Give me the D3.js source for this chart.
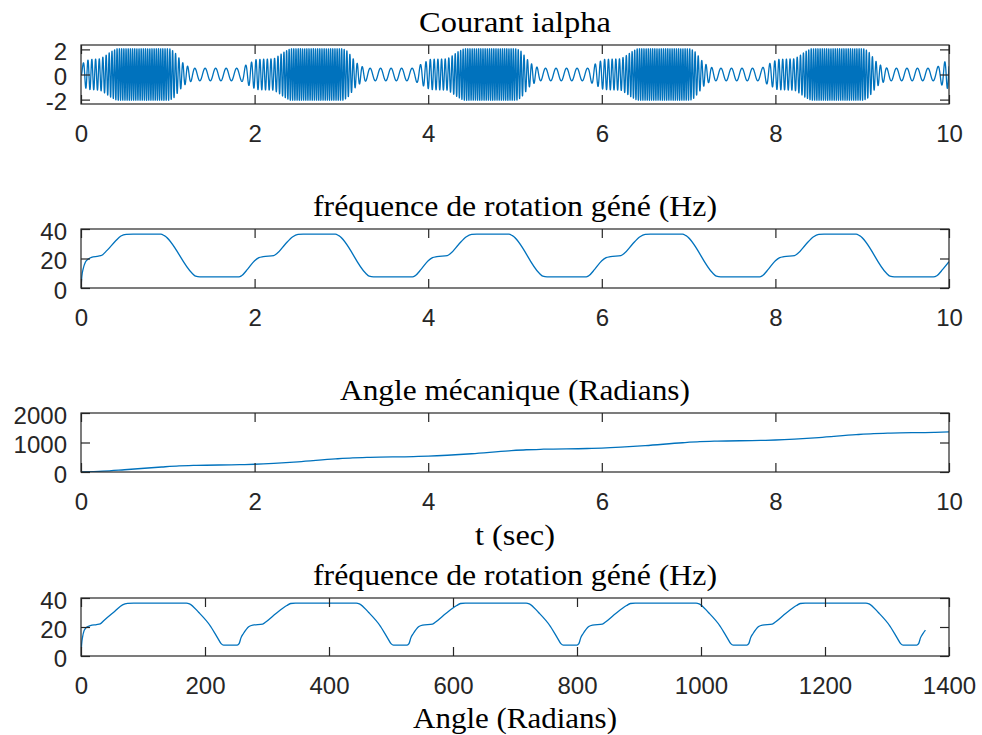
<!DOCTYPE html>
<html>
<head>
<meta charset="utf-8">
<script src="https://cdn.jsdelivr.net/npm/d3@7"></script>
<style>
  body { margin: 0; background: #ffffff; }
  svg { display: block; }
</style>
</head>
<body>
<svg id="chart" width="982" height="735"></svg>
<script>
// ---------------- DATA ----------------
const panelTitles = [
  "Courant ialpha",
  "fréquence de rotation géné (Hz)",
  "Angle mécanique (Radians)",
  "fréquence de rotation géné (Hz)"
];
const xLabelPanel3 = "t (sec)";
const xLabelPanel4 = "Angle (Radians)";

const timeTicks = [0, 2, 4, 6, 8, 10];
const angleTicks = [0, 200, 400, 600, 800, 1000, 1200, 1400];
const ialphaTicks = [-2, 0, 2];
const freqTicks = [0, 20, 40];
const angleYTicks = [0, 1000, 2000];

// Panel 2: rotation frequency (Hz) vs time (s)
const tFreq = [
  0, 0.01, 0.025, 0.05, 0.08, 0.12, 0.2, 0.24, 0.3, 0.4, 0.46, 0.52, 0.6, 0.92, 0.96, 1.28, 1.32, 1.37, 1.82,
  1.85, 1.92, 2.0, 2.05, 2.1, 2.22, 2.26, 2.35, 2.44, 2.5, 2.56, 2.93, 2.97, 3.28, 3.32, 3.37, 3.82,
  3.85, 3.92, 4.0, 4.05, 4.1, 4.22, 4.26, 4.35, 4.44, 4.5, 4.56, 4.93, 4.97, 5.28, 5.32, 5.37, 5.82,
  5.85, 5.92, 6.0, 6.05, 6.1, 6.22, 6.26, 6.35, 6.44, 6.5, 6.56, 6.93, 6.97, 7.28, 7.32, 7.37, 7.82,
  7.85, 7.92, 8.0, 8.05, 8.1, 8.22, 8.26, 8.35, 8.44, 8.5, 8.56, 8.93, 8.97, 9.28, 9.32, 9.37, 9.82,
  9.86, 9.93, 10.0
];
const freqHz = [
  0, 8, 13, 17.5, 19.5, 20.8, 21.6, 22.2, 25.5, 32, 35.3, 36.4, 36.5, 36.5, 35.5, 10, 8, 7.5, 7.5,
  8.3, 12.8, 18.5, 20.6, 21.3, 22, 23.5, 29.5, 34.8, 36.3, 36.5, 36.5, 35.5, 10, 8, 7.5, 7.5,
  8.3, 12.8, 18.5, 20.6, 21.3, 22, 23.5, 29.5, 34.8, 36.3, 36.5, 36.5, 35.5, 10, 8, 7.5, 7.5,
  8.3, 12.8, 18.5, 20.6, 21.3, 22, 23.5, 29.5, 34.8, 36.3, 36.5, 36.5, 35.5, 10, 8, 7.5, 7.5,
  8.3, 12.8, 18.5, 20.6, 21.3, 22, 23.5, 29.5, 34.8, 36.3, 36.5, 36.5, 35.5, 10, 8, 7.5, 7.5,
  8.3, 12.8, 17.8
];

// Panel 3: mechanical angle (rad) vs time (s)
const tAngle = [
  0, 0.25, 0.5, 0.93, 1.13, 1.33, 1.83, 2.0, 2.22, 2.5, 2.93, 3.13, 3.33, 3.83, 4.0, 4.22, 4.5,
  4.93, 5.13, 5.33, 5.83, 6.0, 6.22, 6.5, 6.93, 7.13, 7.33, 7.83, 8.0, 8.22, 8.5, 8.93, 9.13,
  9.33, 9.83, 10
];
const angleRad = [
  0, 28, 77, 170, 206, 225, 249, 263, 293, 345, 444, 480, 499, 523, 537, 567, 619,
  718, 754, 773, 797, 811, 841, 893, 992, 1028, 1047, 1071, 1085, 1115, 1167, 1266, 1302,
  1321, 1345, 1362
];

// Panel 4: rotation frequency (Hz) vs mechanical angle (rad)
const angleX4 = [
  0, 1, 2.5, 5, 9, 15, 25, 31, 37, 55, 67, 75, 85, 170,
  175, 190, 209, 221, 226, 230, 252, 255, 258, 262, 271, 277, 293, 298, 315, 332, 338, 346, 444,
  449, 464, 483, 495, 500, 504, 526, 529, 532, 536, 545, 551, 567, 572, 589, 606, 612, 620, 718,
  723, 738, 757, 769, 774, 778, 800, 803, 806, 810, 819, 825, 841, 846, 863, 880, 886, 894, 992,
  997, 1012, 1031, 1043, 1048, 1052, 1074, 1077, 1080, 1084, 1093, 1099, 1115, 1120, 1137, 1154, 1160, 1168, 1266,
  1271, 1286, 1305, 1317, 1322, 1326, 1348, 1351, 1354, 1358, 1362
];
const freq4 = [
  0, 8, 13, 17.5, 19.8, 21, 21.7, 22.2, 24.5, 31, 35.3, 36.3, 36.5, 36.5,
  36, 30, 20.5, 12, 8.5, 7.5, 7.5, 8.5, 12.5, 15.5, 20.3, 21.3, 22, 23.5, 29.5, 34.8, 36.2, 36.5, 36.5,
  36, 30, 20.5, 12, 8.5, 7.5, 7.5, 8.5, 12.5, 15.5, 20.3, 21.3, 22, 23.5, 29.5, 34.8, 36.2, 36.5, 36.5,
  36, 30, 20.5, 12, 8.5, 7.5, 7.5, 8.5, 12.5, 15.5, 20.3, 21.3, 22, 23.5, 29.5, 34.8, 36.2, 36.5, 36.5,
  36, 30, 20.5, 12, 8.5, 7.5, 7.5, 8.5, 12.5, 15.5, 20.3, 21.3, 22, 23.5, 29.5, 34.8, 36.2, 36.5, 36.5,
  36, 30, 20.5, 12, 8.5, 7.5, 7.5, 8.5, 12.5, 15.5, 17.8
];

// Panel 1: envelope (peak amplitude) of ialpha vs time
const tEnv = [
  0, 0.015, 0.04, 0.1, 0.22, 0.28, 0.34, 0.41, 1.02, 1.07, 1.12, 1.17, 1.23, 1.29, 1.84, 1.9, 1.97,
  2.02, 2.22, 2.28, 2.34, 2.41, 3.02, 3.07, 3.12, 3.17, 3.23, 3.29, 3.84, 3.9, 3.97,
  4.02, 4.22, 4.28, 4.34, 4.41, 5.02, 5.07, 5.12, 5.17, 5.23, 5.29, 5.84, 5.9, 5.97,
  6.02, 6.22, 6.28, 6.34, 6.41, 7.02, 7.07, 7.12, 7.17, 7.23, 7.29, 7.84, 7.9, 7.97,
  8.02, 8.22, 8.28, 8.34, 8.41, 9.02, 9.07, 9.12, 9.17, 9.23, 9.29, 9.84, 9.9, 9.97, 10
];
const ialphaEnv = [
  0, 0.8, 1.05, 1.2, 1.25, 1.5, 1.8, 2.05, 2.05, 1.85, 1.4, 0.95, 0.65, 0.5, 0.5, 0.75, 1.0,
  1.2, 1.25, 1.5, 1.8, 2.05, 2.05, 1.85, 1.4, 0.95, 0.65, 0.5, 0.5, 0.75, 1.0,
  1.2, 1.25, 1.5, 1.8, 2.05, 2.05, 1.85, 1.4, 0.95, 0.65, 0.5, 0.5, 0.75, 1.0,
  1.2, 1.25, 1.5, 1.8, 2.05, 2.05, 1.85, 1.4, 0.95, 0.65, 0.5, 0.5, 0.75, 1.0,
  1.2, 1.25, 1.5, 1.8, 2.05, 2.05, 1.85, 1.4, 0.95, 0.65, 0.5, 0.5, 0.75, 1.1
];
// electrical cycles per mechanical revolution (estimated from the visible oscillations)
const elecPerMech = 1.1;

// ---------------- LAYOUT / STYLE ----------------
const W = 982, H = 735;
const plotLeft = 81, plotRight = 949;
const panels = [
  { top: 45,  bottom: 104 },
  { top: 229, bottom: 288 },
  { top: 413, bottom: 472 },
  { top: 598, bottom: 656 }
];
const lineColor = "#0072BD";
const axisColor = "#262626";
const tickFont = "'Liberation Sans', Arial, Helvetica, sans-serif";
const titleFont = "'Liberation Serif', 'Times New Roman', serif";
const tickFontSize = 24;
const titleFontSize = 29;
const tickLen = 9;

const svg = d3.select("#chart");
svg.append("rect").attr("width", W).attr("height", H).attr("fill", "#fff");

// MATLAB-style labels: plain hyphen for negatives
const fmt = v => (v < 0 ? "-" : "") + d3.format("d")(Math.abs(v));

function drawPanel(i, xDomain, xTicks, yDomain, yTicks, lineData, curve, titleWidth) {
  const p = panels[i];
  const x = d3.scaleLinear().domain(xDomain).range([plotLeft, plotRight]);
  const y = d3.scaleLinear().domain(yDomain).range([p.bottom, p.top]);
  const g = svg.append("g");

  const clipId = "clip" + i;
  svg.append("clipPath").attr("id", clipId)
    .append("rect").attr("x", plotLeft).attr("y", p.top)
    .attr("width", plotRight - plotLeft).attr("height", p.bottom - p.top);

  // data line
  g.append("path")
    .datum(lineData)
    .attr("clip-path", `url(#${clipId})`)
    .attr("fill", "none")
    .attr("stroke", lineColor)
    .attr("stroke-width", 1.3)
    .attr("stroke-linejoin", "round")
    .attr("d", d3.line().x(d => x(d[0])).y(d => y(d[1])).curve(curve));

  // axes
  const bottom = g.append("g").attr("transform", `translate(0,${p.bottom})`)
    .call(d3.axisBottom(x).tickValues(xTicks).tickFormat(fmt).tickSizeInner(-tickLen).tickSizeOuter(0).tickPadding(21));
  const top = g.append("g").attr("transform", `translate(0,${p.top})`)
    .call(d3.axisTop(x).tickValues(xTicks).tickFormat("").tickSizeInner(-tickLen).tickSizeOuter(0));
  const left = g.append("g").attr("transform", `translate(${plotLeft},0)`)
    .call(d3.axisLeft(y).tickValues(yTicks).tickFormat(fmt).tickSizeInner(-tickLen).tickSizeOuter(0).tickPadding(14));
  const right = g.append("g").attr("transform", `translate(${plotRight},0)`)
    .call(d3.axisRight(y).tickValues(yTicks).tickFormat("").tickSizeInner(-tickLen).tickSizeOuter(0));

  [bottom, top, left, right].forEach(a => {
    a.select(".domain").remove();
    a.selectAll(".tick line").attr("stroke", axisColor).attr("stroke-width", 1.2);
    a.selectAll("text").attr("fill", axisColor)
      .style("font-family", tickFont).style("font-size", tickFontSize + "px");
  });
  left.selectAll("text").attr("dy", "0.42em");

  // box
  g.append("rect")
    .attr("x", plotLeft).attr("y", p.top)
    .attr("width", plotRight - plotLeft).attr("height", p.bottom - p.top)
    .attr("fill", "none").attr("stroke", axisColor).attr("stroke-width", 1.2);

  // title
  g.append("text")
    .attr("x", (plotLeft + plotRight) / 2).attr("y", p.top - 13)
    .attr("text-anchor", "middle")
    .attr("textLength", titleWidth).attr("lengthAdjust", "spacingAndGlyphs")
    .style("font-family", titleFont).style("font-size", titleFontSize + "px")
    .attr("fill", "#000")
    .text(panelTitles[i]);
  return g;
}

// Panel 1: ialpha rebuilt from the read envelope and the read rotation frequency
const freqAt = d3.scaleLinear().domain(tFreq).range(freqHz).clamp(true);
const envAt = d3.scaleLinear().domain(tEnv).range(ialphaEnv).clamp(true);
const ialpha = [];
{
  const dt = 0.0005;
  let phase = 0;
  const n = Math.round(10 / dt);
  for (let k = 0; k <= n; k++) {
    const t = k * dt;
    ialpha.push([t, envAt(t) * Math.sin(phase)]);
    phase += 2 * Math.PI * elecPerMech * freqAt(t + dt / 2) * dt;
  }
}

drawPanel(0, [0, 10], timeTicks, [-2.35, 2.35], ialphaTicks, ialpha, d3.curveLinear, 192);
drawPanel(1, [0, 10], timeTicks, [0, 40], freqTicks, tFreq.map((t, i) => [t, freqHz[i]]), d3.curveMonotoneX, 404);
drawPanel(2, [0, 10], timeTicks, [0, 2000], angleYTicks, tAngle.map((t, i) => [t, angleRad[i]]), d3.curveMonotoneX, 350);
drawPanel(3, [0, 1400], angleTicks, [0, 40], freqTicks, angleX4.map((a, i) => [a, freq4[i]]), d3.curveMonotoneX, 404);

// x labels
svg.append("text")
  .attr("x", (plotLeft + plotRight) / 2).attr("y", 545)
  .attr("text-anchor", "middle")
  .attr("textLength", 80).attr("lengthAdjust", "spacingAndGlyphs")
  .style("font-family", titleFont).style("font-size", titleFontSize + "px")
  .attr("fill", "#000").text(xLabelPanel3);
svg.append("text")
  .attr("x", (plotLeft + plotRight) / 2).attr("y", 728)
  .attr("text-anchor", "middle")
  .attr("textLength", 204).attr("lengthAdjust", "spacingAndGlyphs")
  .style("font-family", titleFont).style("font-size", titleFontSize + "px")
  .attr("fill", "#000").text(xLabelPanel4);
</script>
</body>
</html>
